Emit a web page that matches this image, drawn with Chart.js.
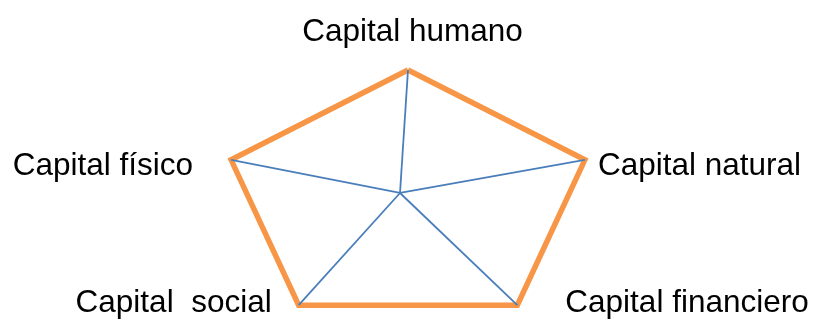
<!DOCTYPE html>
<html>
<head>
<meta charset="utf-8">
<script src="https://cdn.jsdelivr.net/npm/chart.js@4/dist/chart.umd.min.js"></script>
<style>
html,body{margin:0;padding:0;background:#fff;}
#wrap{width:814px;height:320px;}
</style>
</head>
<body>
<div id="wrap"><canvas id="c" width="814" height="320"></canvas></div>
<script>
// ---- data ----
const categories = ['Capital humano', 'Capital natural', 'Capital financiero', 'Capital  social', 'Capital físico'];
const values = [100, 100, 100, 100, 100];
const axisMax = 100;

// ---- layout / style (not data) ----
const hub = { x: -4.3, y: 5.4 };           // where the axis spokes meet (in value units)
const labelStyle = [
  { align: 'center', dx: 4.5, dy: -29 },
  { align: 'left',   dx: 13,  dy: 15 },
  { align: 'left',   dx: 48,  dy: 6.5 },
  { align: 'right',  dx: -27, dy: 6.5 },
  { align: 'right',  dx: -38, dy: 15 }
];

function polar(v, i) {
  const a = -Math.PI / 2 + i * 2 * Math.PI / categories.length;
  return { x: Math.cos(a) * v, y: -Math.sin(a) * v };
}

const polyPts = values.map((v, i) => polar(v, i));
polyPts.push(polyPts[0]);

const spokeSets = categories.map((c, i) => ({
  label: 'axis ' + c,
  data: [hub, polar(axisMax, i)],
  showLine: true,
  borderColor: '#4A7EBB',
  borderWidth: 1.8,
  pointRadius: 0,
  order: 0
}));

const labelPlugin = {
  id: 'catLabels',
  afterDatasetsDraw(chart) {
    const ctx = chart.ctx;
    const xs = chart.scales.x, ys = chart.scales.y;
    ctx.save();
    ctx.font = '31.5px "Liberation Sans", Arial, sans-serif';
    ctx.fillStyle = '#000';
    ctx.textBaseline = 'alphabetic';
    categories.forEach((c, i) => {
      const p = polar(axisMax, i);
      const st = labelStyle[i];
      ctx.textAlign = st.align;
      ctx.fillText(c, xs.getPixelForValue(p.x) + st.dx, ys.getPixelForValue(p.y) + st.dy);
    });
    ctx.restore();
  }
};

new Chart(document.getElementById('c'), {
  type: 'scatter',
  data: {
    datasets: [
      ...spokeSets,
      {
        label: 'Capitales',
        data: polyPts,
        showLine: true,
        borderColor: '#F79646',
        borderWidth: 5.5,
        borderJoinStyle: 'miter',
        pointRadius: 0,
        order: 1
      }
    ]
  },
  options: {
    responsive: false,
    animation: false,
    layout: { padding: 0 },
    plugins: { legend: { display: false }, tooltip: { enabled: false } },
    scales: {
      x: { type: 'linear', display: false, min: -219.35, max: 218.28 },
      y: { type: 'linear', display: false, min: -92.31, max: 153.85 }
    }
  },
  plugins: [labelPlugin]
});
</script>
</body>
</html>
